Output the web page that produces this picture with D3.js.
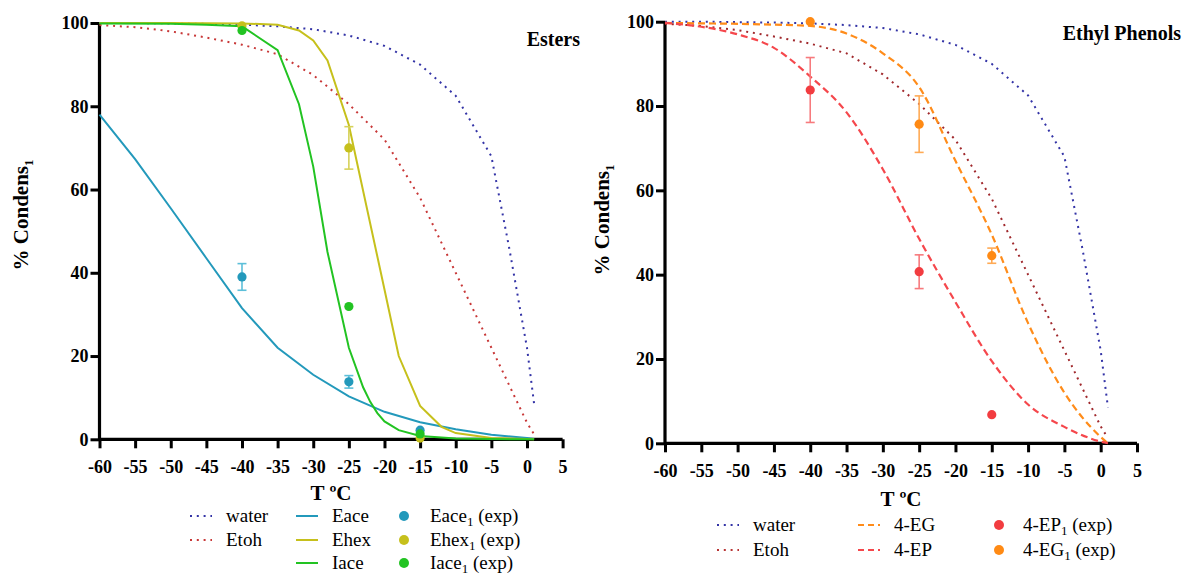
<!DOCTYPE html>
<html>
<head>
<meta charset="utf-8">
<script src="https://cdn.jsdelivr.net/npm/d3@7"></script>
<style>
  body { margin: 0; background: #fff; }
  svg { display: block; }
  svg text { font-family: "Liberation Serif", "Times New Roman", serif; fill: #000; }
</style>
</head>
<body>
<svg id="chart" width="1182" height="575"></svg>
<script>
// ---- Shared temperature axis ----
const xTicks = [-60, -55, -50, -45, -40, -35, -30, -25, -20, -15, -10, -5, 0, 5];
const yTicks = [0, 20, 40, 60, 80, 100];

// ---- Solvent reference curves (used in both panels) ----
const waterT = [-60, -55, -50, -45, -40, -35, -30, -25, -20, -15, -10, -5, -2.5, 0, 1];
const waterV = [100, 100, 99.9, 99.8, 99.6, 99.2, 98.5, 97, 94.5, 90, 82.5, 68, 46, 22, 8.5];
const etohT = [-60, -55, -50, -45, -40, -35, -30, -25, -20, -15, -10, -5, 0, 1];
const etohV = [99.5, 99, 98, 96.5, 94.8, 92.5, 87.5, 80.5, 72, 58, 40, 22, 4, 1.2];

// ---- Esters: model curves ----
const eaceT = [-60, -55, -50, -45, -40, -35, -30, -25, -20, -15, -10, -5, 0, 1];
const eaceV = [78, 67.3, 55.5, 43.5, 31.5, 22, 15.5, 10.3, 6.6, 4.1, 2.4, 1.1, 0.3, 0.1];
const ehexT = [-60, -50, -40, -35, -32, -30, -28, -25, -20, -18, -15, -12, -10, -5, 0, 1];
const ehexV = [100, 100, 99.9, 99.6, 98.2, 95.8, 91, 75.5, 36, 20, 8, 3, 1.5, 0.3, 0.05, 0];
const iaceT = [-60, -50, -45, -40, -35, -32, -30, -28, -25, -23, -22, -21, -20, -18, -15, -10, -5, 0, 1];
const iaceV = [99.9, 99.8, 99.6, 99.2, 93.5, 80.5, 65.5, 45, 22, 12.5, 9, 6.3, 4.3, 2.2, 0.8, 0.2, 0.05, 0, 0];

// ---- Ethyl phenols: model curves ----
const egT = [-60, -55, -50, -45, -40, -35, -30, -25, -20, -15, -10, -5, 0, 1];
const egV = [99.7, 99.6, 99.5, 99.3, 99, 97.2, 92.5, 84.5, 67, 49.5, 28.5, 12, 1.5, 0];
const epT = [-60, -55, -50, -45, -40, -35, -30, -25, -20, -15, -10, -5, 0, 1];
const epV = [99.7, 98.8, 97, 93.8, 87, 78.5, 65, 48.5, 33.5, 19.5, 9.2, 3.9, 0.4, 0];

// ---- Experimental points (mean, error) ----
const expT = [-40, -25, -15];
const eace1 = [39, 13.8, 2.2];
const eace1Err = [3.2, 1.5, 0];
const ehex1 = [99.3, 70, 0.3];
const ehex1Err = [0, 5.1, 0];
const iace1 = [98.2, 31.9, 1.3];
const iace1Err = [0, 0, 0];
const ep1 = [83.8, 40.7, 6.8];
const ep1Err = [7.7, 4, 0];
const eg1 = [100, 75.7, 44.5];
const eg1Err = [0, 6.7, 1.8];

const zip = (t, v) => t.map((d, i) => ({ t: d, v: v[i] }));
const zipErr = (t, v, e) => t.map((d, i) => ({ t: d, v: v[i], e: e[i] }));

const svg = d3.select("#chart");
const SERIF = "'Liberation Serif', 'Times New Roman', serif";

const DOT = "2,4.8";
const DASH = "7,4";

const panels = [
  {
    title: "Esters", titleX: 580, titleY: 46,
    xr: [99.5, 562.6], yr: [439.3, 23],
    yLabelX: 28, yLabelY: 215, xLabelY: 500,
    lines: [
      { data: zip(waterT, waterV), color: "#3333a6", dash: DOT, w: 2 },
      { data: zip(etohT, etohV), color: "#c83737", dash: DOT, w: 2 },
      { data: zip(eaceT, eaceV), color: "#2399bb", dash: null, w: 2 },
      { data: zip(ehexT, ehexV), color: "#c6c01c", dash: null, w: 2 },
      { data: zip(iaceT, iaceV), color: "#22c322", dash: null, w: 2 }
    ],
    points: [
      { data: zipErr(expT, ehex1, ehex1Err), color: "#c6c01c", bar: "#d6d25a" },
      { data: zipErr(expT, eace1, eace1Err), color: "#2399bb", bar: "#5cbfd9" },
      { data: zipErr(expT, iace1, iace1Err), color: "#22c322", bar: "#66d866" }
    ],
    legend: [
      { x: 190, y: 516, kind: "line", color: "#3333a6", dash: DOT, label: ["water"] },
      { x: 190, y: 540, kind: "line", color: "#c83737", dash: DOT, label: ["Etoh"] },
      { x: 296, y: 516, kind: "line", color: "#2399bb", dash: null, label: ["Eace"] },
      { x: 296, y: 540, kind: "line", color: "#c6c01c", dash: null, label: ["Ehex"] },
      { x: 296, y: 563, kind: "line", color: "#22c322", dash: null, label: ["Iace"] },
      { x: 404, y: 516, kind: "dot", color: "#2399bb", label: ["Eace", "1", " (exp)"] },
      { x: 404, y: 540, kind: "dot", color: "#c6c01c", label: ["Ehex", "1", " (exp)"] },
      { x: 404, y: 563, kind: "dot", color: "#22c322", label: ["Iace", "1", " (exp)"] }
    ],
    lineText: 36, dotText: 26
  },
  {
    title: "Ethyl Phenols", titleX: 1181, titleY: 40,
    xr: [665, 1137], yr: [443.3, 21.7],
    yLabelX: 609, yLabelY: 220, xLabelY: 506,
    lines: [
      { data: zip(waterT, waterV), color: "#3333a6", dash: DOT, w: 2 },
      { data: zip(etohT, etohV), color: "#a0282c", dash: DOT, w: 2 },
      { data: zip(egT, egV), color: "#ff8c1a", dash: DASH, w: 2.2, smooth: true },
      { data: zip(epT, epV), color: "#f5474c", dash: DASH, w: 2.2, smooth: true }
    ],
    points: [
      { data: zipErr(expT, ep1, ep1Err), color: "#f23c40", bar: "#f77a7d" },
      { data: zipErr(expT, eg1, eg1Err), color: "#ff8a14", bar: "#ffaa55" }
    ],
    legend: [
      { x: 717, y: 525, kind: "line", color: "#3333a6", dash: DOT, label: ["water"] },
      { x: 717, y: 550, kind: "line", color: "#b83434", dash: DOT, label: ["Etoh"] },
      { x: 858, y: 525, kind: "line", color: "#ff8c1a", dash: "6,4", label: ["4-EG"] },
      { x: 858, y: 550, kind: "line", color: "#f5474c", dash: "6,4", label: ["4-EP"] },
      { x: 999, y: 525, kind: "dot", color: "#f23c40", label: ["4-EP", "1", " (exp)"] },
      { x: 999, y: 550, kind: "dot", color: "#ff8a14", label: ["4-EG", "1", " (exp)"] }
    ],
    lineText: 36, dotText: 24
  }
];

panels.forEach(p => {
  const x = d3.scaleLinear().domain([-60, 5]).range(p.xr);
  const y = d3.scaleLinear().domain([0, 100]).range(p.yr);
  const g = svg.append("g");

  // axes
  const xAxis = g.append("g")
    .attr("transform", `translate(0,${p.yr[0]})`)
    .call(d3.axisBottom(x).tickValues(xTicks).tickFormat(d => String(d)).tickSize(9).tickPadding(12));
  const yAxis = g.append("g")
    .attr("transform", `translate(${p.xr[0]},0)`)
    .call(d3.axisLeft(y).tickValues(yTicks).tickFormat(d => String(d)).tickSize(9).tickPadding(2));
  [xAxis, yAxis].forEach(a => {
    a.attr("font-family", SERIF).attr("font-size", 18).attr("font-weight", "bold");
    a.select(".domain").attr("stroke", "#000").attr("stroke-width", 3.2);
    a.selectAll(".tick line").attr("stroke", "#000").attr("stroke-width", 3);
    a.selectAll(".tick text")
      .style("font-family", SERIF)
      .style("font-weight", "bold")
      .style("font-size", "18px")
      .attr("fill", "#000");
  });
  // plain end caps on the axis lines
  xAxis.select(".domain").attr("d", `M${p.xr[0]},0H${p.xr[1]}`);
  yAxis.select(".domain").attr("d", `M0,${p.yr[0] + 1.5}V${p.yr[1]}`);

  // axis titles
  g.append("text")
    .attr("x", (p.xr[0] + p.xr[1]) / 2)
    .attr("y", p.xLabelY)
    .attr("text-anchor", "middle")
    .style("font-weight", "bold")
    .style("font-size", "21px")
    .text("T ºC");

  const yl = g.append("text")
    .attr("transform", `translate(${p.yLabelX},${p.yLabelY}) rotate(-90)`)
    .attr("text-anchor", "middle")
    .style("font-weight", "bold")
    .style("font-size", "21px");
  yl.append("tspan").text("% Condens");
  yl.append("tspan").attr("dy", 5).style("font-size", "13px").text("1");

  // panel title
  g.append("text")
    .attr("x", p.titleX)
    .attr("y", p.titleY)
    .attr("text-anchor", "end")
    .style("font-weight", "bold")
    .style("font-size", "20px")
    .text(p.title);

  // model curves
  p.lines.forEach(l => {
    const gen = d3.line().x(d => x(d.t)).y(d => y(d.v))
      .curve(l.smooth ? d3.curveMonotoneX : d3.curveLinear);
    g.append("path")
      .datum(l.data)
      .attr("d", gen)
      .attr("fill", "none")
      .attr("stroke", l.color)
      .attr("stroke-width", l.w)
      .attr("stroke-dasharray", l.dash);
  });

  // experimental points with error bars
  p.points.forEach(s => {
    const sg = g.append("g");
    const withErr = s.data.filter(d => d.e > 0);
    sg.selectAll("line.v").data(withErr).join("line")
      .attr("x1", d => x(d.t)).attr("x2", d => x(d.t))
      .attr("y1", d => y(d.v + d.e)).attr("y2", d => y(d.v - d.e))
      .attr("stroke", s.bar).attr("stroke-width", 1.6);
    ["top", "bot"].forEach(k => {
      sg.selectAll("line." + k).data(withErr).join("line")
        .attr("x1", d => x(d.t) - 4.5).attr("x2", d => x(d.t) + 4.5)
        .attr("y1", d => y(k === "top" ? d.v + d.e : d.v - d.e))
        .attr("y2", d => y(k === "top" ? d.v + d.e : d.v - d.e))
        .attr("stroke", s.bar).attr("stroke-width", 1.6);
    });
    sg.selectAll("circle").data(s.data).join("circle")
      .attr("cx", d => x(d.t)).attr("cy", d => y(d.v))
      .attr("r", 4.6)
      .attr("fill", s.color);
  });

  // legend
  p.legend.forEach(it => {
    if (it.kind === "line") {
      g.append("line")
        .attr("x1", it.x).attr("x2", it.x + 22)
        .attr("y1", it.y).attr("y2", it.y)
        .attr("stroke", it.color)
        .attr("stroke-width", 2)
        .attr("stroke-dasharray", it.dash);
    } else {
      g.append("circle")
        .attr("cx", it.x).attr("cy", it.y).attr("r", 5)
        .attr("fill", it.color);
    }
    const tx = g.append("text")
      .attr("x", it.x + (it.kind === "line" ? p.lineText : p.dotText))
      .attr("y", it.y + 6)
      .style("font-size", "19px");
    tx.append("tspan").text(it.label[0]);
    if (it.label.length > 1) {
      tx.append("tspan").attr("dy", 4).style("font-size", "13px").text(it.label[1]);
      tx.append("tspan").attr("dy", -4).text(it.label[2]);
    }
  });
});
</script>
</body>
</html>
